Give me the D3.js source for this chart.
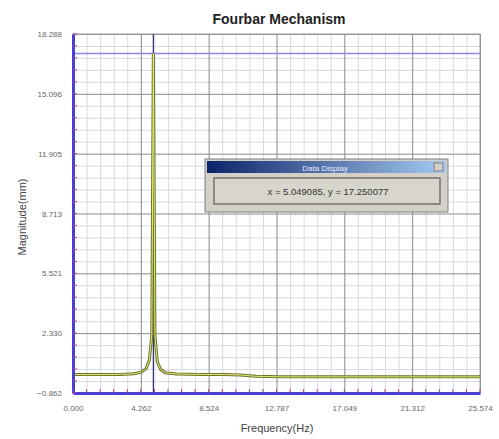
<!DOCTYPE html>
<html>
<head>
<meta charset="utf-8">
<script src="https://cdn.jsdelivr.net/npm/d3@7"></script>
<style>
  body { margin: 0; background: #fff; }
  svg { display: block; font-family: "Liberation Sans", Arial, sans-serif; }
</style>
</head>
<body>
<svg id="chart" width="499" height="439"></svg>
<script>
// Spectrum data
var freq = [0.0, 1.0, 2.0, 3.0, 3.8, 4.3, 4.6, 4.8, 4.95, 5.049, 5.15, 5.3, 5.5, 5.8, 6.5, 8.0, 9.5, 10.5, 11.5, 13.0, 17.0, 21.0, 25.574];
var mag  = [0.12, 0.12, 0.12, 0.13, 0.16, 0.25, 0.45, 0.9, 2.2, 17.25, 2.2, 0.8, 0.4, 0.22, 0.15, 0.13, 0.12, 0.10, 0.03, 0.0, 0.0, 0.0, 0.0];
var xTicks = [0.000, 4.262, 8.524, 12.787, 17.049, 21.312, 25.574];
var yTicks = [-0.862, 2.330, 5.521, 8.713, 11.905, 15.096, 18.288];
var cursor = {x: 5.049085, y: 17.250077};

var margin = {top: 34, right: 19, bottom: 46, left: 73},
    width = 499 - margin.left - margin.right,
    height = 439 - margin.top - margin.bottom;

var svg = d3.select("#chart");
var g = svg.append("g")
    .attr("transform", "translate(" + margin.left + "," + margin.top + ")");

var x = d3.scaleLinear().domain([xTicks[0], xTicks[xTicks.length - 1]]).range([0, width]);
var y = d3.scaleLinear().domain([yTicks[0], yTicks[yTicks.length - 1]]).range([height, 0]);

// minor ticks: 5 per major interval
var xMinor = [], yMinor = [];
for (var i = 0; i < xTicks.length - 1; i++)
    for (var k = 1; k < 5; k++) xMinor.push(xTicks[i] + (xTicks[i + 1] - xTicks[i]) * k / 5);
for (var i = 0; i < yTicks.length - 1; i++)
    for (var k = 1; k < 5; k++) yMinor.push(yTicks[i] + (yTicks[i + 1] - yTicks[i]) * k / 5);

// minor grid
g.append("g")
    .attr("transform", "translate(0," + height + ")")
    .call(d3.axisBottom(x).tickValues(xMinor).tickSize(-height).tickFormat(""))
    .call(a => a.select(".domain").remove())
    .selectAll("line").attr("stroke", "#d9d9e2");
g.append("g")
    .call(d3.axisLeft(y).tickValues(yMinor).tickSize(-width).tickFormat(""))
    .call(a => a.select(".domain").remove())
    .selectAll("line").attr("stroke", "#d9d9e2");

// major grid
g.append("g")
    .attr("transform", "translate(0," + height + ")")
    .call(d3.axisBottom(x).tickValues(xTicks).tickSize(-height).tickFormat(""))
    .call(a => a.select(".domain").remove())
    .selectAll("line").attr("stroke", "#8a8a8a");
g.append("g")
    .call(d3.axisLeft(y).tickValues(yTicks).tickSize(-width).tickFormat(""))
    .call(a => a.select(".domain").remove())
    .selectAll("line").attr("stroke", "#8a8a8a");

// outer frame (top / right)
g.append("rect")
    .attr("width", width).attr("height", height)
    .attr("fill", "none").attr("stroke", "#a0a0a8");

// cursor lines
g.append("line")
    .attr("x1", 0).attr("x2", width)
    .attr("y1", y(cursor.y)).attr("y2", y(cursor.y))
    .attr("stroke", "#8a8ae6").attr("stroke-width", 1.5);
g.append("line")
    .attr("x1", x(cursor.x)).attr("x2", x(cursor.x))
    .attr("y1", 0).attr("y2", height)
    .attr("stroke", "#2a2a70").attr("stroke-width", 1.2);

// spectrum curve
var line = d3.line()
    .x(function (d, i) {return x(freq[i]);})
    .y(function (d) {return y(d);});
g.append("path").datum(mag)
    .attr("d", line)
    .attr("fill", "none").attr("stroke", "#6e7030").attr("stroke-width", 3);
g.append("path").datum(mag)
    .attr("d", line)
    .attr("fill", "none").attr("stroke", "#e4ee70").attr("stroke-width", 1);

// axes (blue, with small ticks)
var xAxis = g.append("g")
    .attr("transform", "translate(0," + height + ")")
    .call(d3.axisBottom(x).tickValues(xTicks).tickSize(0).tickPadding(12)
        .tickFormat(d3.format(".3f")));
xAxis.select(".domain").attr("stroke", "#4a40d8").attr("stroke-width", 3);
xAxis.selectAll("text").attr("fill", "#666").style("font-size", "8px");

var yAxis = g.append("g")
    .call(d3.axisLeft(y).tickValues(yTicks).tickSize(0).tickPadding(11)
        .tickFormat(d3.format(".3f")));
yAxis.select(".domain").attr("stroke", "#4a40d8").attr("stroke-width", 3);
yAxis.selectAll("text").attr("fill", "#666").style("font-size", "8px");

// tick marks along axes (inside)
g.append("g").selectAll("line")
    .data(xMinor.concat(xTicks)).enter().append("line")
    .attr("x1", function (d) {return x(d);}).attr("x2", function (d) {return x(d);})
    .attr("y1", height - 4).attr("y2", height)
    .attr("stroke", "#b04090");
g.append("g").selectAll("line")
    .data(yMinor.concat(yTicks)).enter().append("line")
    .attr("y1", function (d) {return y(d);}).attr("y2", function (d) {return y(d);})
    .attr("x1", 0).attr("x2", 4)
    .attr("stroke", "#b04090");

// titles
svg.append("text")
    .attr("x", 279).attr("y", 24)
    .attr("text-anchor", "middle")
    .style("font-size", "14px").style("font-weight", "bold")
    .attr("fill", "#222")
    .text("Fourbar Mechanism");
svg.append("text")
    .attr("x", 277).attr("y", 432)
    .attr("text-anchor", "middle")
    .style("font-size", "11px").attr("fill", "#444")
    .text("Frequency(Hz)");
svg.append("text")
    .attr("transform", "translate(26,217) rotate(-90)")
    .attr("text-anchor", "middle")
    .style("font-size", "11px").attr("fill", "#444")
    .text("Magnitude(mm)");

// Data Display window
var grad = svg.append("defs").append("linearGradient").attr("id", "titlebar");
grad.append("stop").attr("offset", "0%").attr("stop-color", "#0a246a");
grad.append("stop").attr("offset", "100%").attr("stop-color", "#a6caf0");

var win = svg.append("g").attr("transform", "translate(205,159)");
win.append("rect").attr("width", 243).attr("height", 53)
    .attr("fill", "#d4d0c8").attr("stroke", "#808080");
win.append("rect").attr("x", 2).attr("y", 2).attr("width", 239).attr("height", 12)
    .attr("fill", "url(#titlebar)");
win.append("text").attr("x", 120).attr("y", 11.5)
    .attr("text-anchor", "middle").style("font-size", "8px").attr("fill", "#e8eefc")
    .text("Data Display");
win.append("rect").attr("x", 229).attr("y", 4).attr("width", 9).attr("height", 8)
    .attr("fill", "#d4d0c8").attr("stroke", "#808080");
win.append("rect").attr("x", 9).attr("y", 19).attr("width", 226).attr("height", 26)
    .attr("fill", "#d8d5cc").attr("stroke", "#707070").attr("stroke-width", 1.5);
win.append("text").attr("x", 123).attr("y", 35.5)
    .attr("text-anchor", "middle").style("font-size", "9.5px").attr("fill", "#333")
    .text("x = " + cursor.x.toFixed(6) + ", y = " + cursor.y.toFixed(6));
</script>
</body>
</html>
